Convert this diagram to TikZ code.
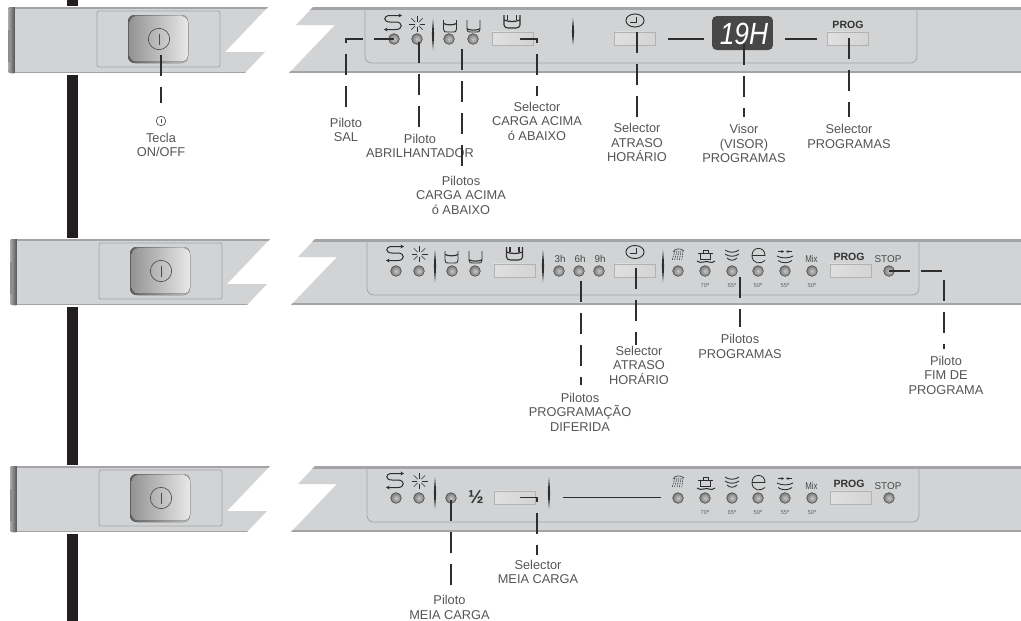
\documentclass[tikz,border=0pt]{standalone}
\usepackage{fontspec}
\setmainfont{Liberation Sans}
\usetikzlibrary{arrows.meta,shapes.geometric}
\definecolor{panelc}{HTML}{D1D3D4}
\definecolor{stripc}{HTML}{A2A4A7}
\definecolor{inkc}{HTML}{2E2E2E}
\definecolor{textc}{HTML}{555555}
\definecolor{barc}{HTML}{231F20}
\tikzset{
  x=0.75pt,y=-0.75pt,
  leader/.style={draw=inkc,line width=0.8pt,dash pattern=on 15.75pt off 8.25pt},
  solidline/.style={draw=inkc,line width=0.8pt},
  ico/.style={draw=inkc,line width=0.55pt},
  light/.style={circle,minimum size=8pt,inner sep=0pt,draw=black!70,line width=0.45pt,inner color=black!22,outer color=black!52},
  lab/.style={font=\fontsize{9.6pt}{10.9pt}\selectfont,text=textc,align=center,inner sep=0pt},
  selbox/.style={draw=black!30,line width=0.5pt,left color=black!12,middle color=black!3,right color=black!17,minimum width=30.5pt,minimum height=10pt,inner sep=0pt},
  progt/.style={font=\fontsize{7.9pt}{8pt}\selectfont\bfseries,text=black!80,inner sep=0pt},
  smallt/.style={font=\fontsize{7.4pt}{8pt}\selectfont,text=black!72,inner sep=0pt},
  tempt/.style={font=\fontsize{4.4pt}{5pt}\selectfont,text=black!60,inner sep=0pt},
}
\newcommand\lensbar[3]{\fill[inkc] (#1,#2) .. controls (#1+1.4,{(#2+#3)/2}) .. (#1,#3) .. controls (#1-1.4,{(#2+#3)/2}) .. (#1,#2);}
\newcommand\saltI[2]{\begin{scope}[shift={(#1,#2)}]
 \draw[ico,line width=0.75pt,{Stealth[length=2.6pt,width=2.8pt]}-{Stealth[length=2.6pt,width=2.8pt]}] (9,-7.5) -- (-3,-7.5) .. controls (-10,-7.5) and (-10,-1) .. (-3,-1) -- (3,-1) .. controls (10,-1) and (10,6.5) .. (3,6.5) -- (-9,6.5);
\end{scope}}
\newcommand\sparkI[2]{\begin{scope}[shift={(#1,#2)}]
 \foreach \a in {0,45,...,315}{\draw[ico,line width=0.4pt] ({2.5*cos(\a)},{2.5*sin(\a)}) -- ({8*cos(\a)},{8*sin(\a)});}
\end{scope}}
\newcommand\bucketI[3]{\begin{scope}[shift={(#1,#2)}]
 \draw[ico,line width=0.65pt] (-6.5,-6) -- (-6.5,3) .. controls (-6.5,6) and (-5,6) .. (-3,6) -- (3,6) .. controls (5,6) and (6.5,6) .. (6.5,3) -- (6.5,-6);
 \draw[ico,line width=0.85pt] (-6.5,#3) .. controls (-3,{#3+1.8}) and (3,{#3+1.8}) .. (6.5,#3);
\end{scope}}
\newcommand\dblbucket[2]{\begin{scope}[shift={(#1,#2)}]
 \draw[ico,line width=0.8pt] (-8,-6) -- (-8,4) .. controls (-8,6) and (-6,7) .. (-4,7) -- (4,7) .. controls (6,7) and (8,6) .. (8,4) -- (8,-6);
 \draw[ico,line width=0.8pt] (-4.5,-6) -- (-4.5,-1) (4.5,-6) -- (4.5,-1);
 \draw[ico,line width=0.9pt] (-8,-1) .. controls (-3,1) and (3,1) .. (8,-1);
\end{scope}}
\newcommand\clockI[2]{\begin{scope}[shift={(#1,#2)}]
 \draw[ico,line width=0.7pt] (0,0) ellipse[x radius=6.8pt,y radius=4.9pt];
 \draw[ico,line width=0.6pt] (1,-4) -- (1,1.5) -- (-5,1.5);
\end{scope}}
\newcommand\powerI[3]{\draw[draw=black!70,line width=0.5pt] (#1,#2) circle[radius=#3pt]; \draw[draw=black!70,line width=0.5pt] (#1,#2) ++(0,-5.5*#3/8) -- ++(0,11*#3/8);}
\newcommand\panelrow[2]{\begin{scope}[shift={(#1,#2)}]
 \fill[white] (58,5.5) rectangle (85,74.5);
 \fill[rounded corners=2pt,left color=black!32,right color=black!78] (8,7) rectangle (17,73);
 \fill[black!45] (8,30) rectangle (10,62);
 \begin{scope}
  \clip (15,7) -- (268,7) -- (225,52) -- (265,52) -- (245,73) -- (15,73) -- cycle;
  \fill[panelc] (15,7) rectangle (270,73);
  \fill[stripc] (15,7) rectangle (270,9);
  \fill[stripc] (15,71.5) rectangle (270,73);
 \end{scope}
 \begin{scope}
  \clip (313,7) -- (296,25) -- (335,25) -- (289,73) -- (1025,73) -- (1025,7) -- cycle;
  \fill[panelc] (280,7) rectangle (1025,73);
  \fill[stripc] (280,7) rectangle (1025,9.5);
  \fill[stripc] (280,70.8) rectangle (1025,73);
 \end{scope}
 \draw[stripc,line width=0.6pt,rounded corners=1.5pt] (97,11) rectangle (220,67);
 \draw[stripc,line width=0.6pt,rounded corners=5pt] (365,8) -- (365,63) -- (917,63) -- (917,8);
 \fill[rounded corners=5pt,left color=black!62,right color=black!25] (128,15) rectangle (188,63);
 \fill[rounded corners=5pt,left color=black!42,right color=black!9] (129.5,16) rectangle (188,61.5);
 \powerI{159}{39}{8}
\end{scope}}
\newcommand\progrow[2]{\begin{scope}[shift={(0,#2)}]
 \node[light] (#1a) at (678,271) {};
 \node[light] (#1b) at (705,271) {};
 \node[light] (#1c) at (732,271) {};
 \node[light] (#1d) at (758,271) {};
 \node[light] (#1e) at (785,271) {};
 \node[light] (#1f) at (812,271) {};
 \node[light] (#1stop) at (889,271) {};
 \node[tempt] (#1ta) at (705,285) {70º};
 \node[tempt] (#1tb) at (732,285) {65º};
 \node[tempt] (#1tc) at (758,285) {50º};
 \node[tempt] (#1td) at (785,285) {55º};
 \node[tempt] (#1te) at (812,285) {50º};
 \node[font=\fontsize{7.4pt}{8pt}\selectfont,text=black!72,inner sep=0pt,xscale=0.8] (#1mix) at (811.5,259) {Mix};
 \node[progt] (#1pr) at (849,257) {PROG};
 \node[selbox] (#1sel) at (850.5,270.5) {};
 \node[smallt] (#1st) at (888,259) {STOP};
 % shower
 \draw[ico,line width=0.45pt] (673,252) .. controls (675,248) and (681,248) .. (684,251);
 \foreach \q in {-4,-2,0,2,4}{\draw[ico,line width=0.4pt,dash pattern=on 1.2pt off 0.7pt] (679+\q,251) -- (677+1.2*\q,260);}
 % pot
 \draw[ico] (700.5,254) -- (700.5,259.5) -- (710.5,259.5) -- (710.5,254);
 \draw[ico] (698,253.5) -- (713,253.5) (703,253.5) -- (703,250) -- (708,250) -- (708,253.5);
 \draw[ico,line width=0.75pt] (697,261) .. controls (701,264.5) and (706,260) .. (709,262) .. controls (711,263) and (713,262.5) .. (715,261);
 % bowls
 \draw[ico,line width=0.65pt] (725,250) .. controls (729,253) and (735,253) .. (739,250);
 \draw[ico,line width=0.65pt] (725,254) .. controls (729,257) and (735,257) .. (739,254);
 \draw[ico,line width=0.65pt] (727,258) .. controls (730,261) and (734,261) .. (737,258);
 % e
 \draw[ico,line width=0.6pt] (752,255.5) -- (765,255.5) .. controls (765,246) and (752,246) .. (752,255.5) .. controls (752,264) and (761,264.5) .. (765,260.5);
 % 55
 \draw[ico,line width=0.5pt,-{Stealth[length=2pt,width=2pt]}] (778,251.5) -- (784,251.5);
 \draw[ico,line width=0.5pt,-{Stealth[length=2pt,width=2pt]}] (792,251.5) -- (786,251.5);
 \draw[ico,line width=0.65pt] (777,256) .. controls (781,258.5) and (789,258.5) .. (793,256);
 \draw[ico,line width=0.65pt] (778,260.5) .. controls (782,263.5) and (788,263.5) .. (792,260.5);
\end{scope}}
\begin{document}
\begin{tikzpicture}
\useasboundingbox (0,0) rectangle (1021,621);
\fill[white] (0,0) rectangle (1021,621);
\fill[barc] (67,0) rectangle (78,621);
\panelrow{0}{0}
\panelrow{2}{232}
\panelrow{2}{459}

%%% ROW 1
\saltI{393}{23}
\sparkI{417}{24}
\bucketI{450}{26}{-2.5}
\bucketI{473.5}{26}{2.8}
\dblbucket{512}{21}
\clockI{635}{20.5}
\lensbar{433}{19}{50}
\lensbar{573}{18}{45}
\node[light] (asal) at (394,39) {};
\node[light] (abri) at (417,39) {};
\node[light] (acga) at (449,39) {};
\node[light] (acgb) at (473,39) {};
\node[selbox] (asela) at (512.5,38.5) {};
\node[selbox] (aselb) at (635,38.5) {};
\node[selbox] (aselc) at (848,38.5) {};
\node[progt] (aprog) at (848,25) {PROG};
\node[fill=black!72,rounded corners=3.5pt,minimum width=45.7pt,minimum height=25.5pt,inner sep=0pt] (avis) at (742.5,33) {};
\node[font=\fontsize{23pt}{23pt}\selectfont\itshape,text=white,inner sep=0pt,xscale=0.86] (avist) at (744,34) {19H};
\coordinate (cl1) at (668,39); \coordinate (cl2) at (704,39);
\coordinate (cl3) at (785,39); \coordinate (cl4) at (817,39);
\draw[solidline] (cl1) -- (cl2);
\draw[solidline] (cl3) -- (cl4);

%%% ROW 2
\saltI{395}{254}
\sparkI{419.5}{254}
\bucketI{451.5}{257}{-2.5}
\bucketI{475.5}{257}{2.8}
\dblbucket{514.5}{253}
\clockI{635}{252}
\lensbar{435}{250}{282}
\lensbar{543}{250}{282}
\lensbar{663}{250}{282}
\node[light] (bsal) at (396,271) {};
\node[light] (bbri) at (419,271) {};
\node[light] (bcga) at (452,271) {};
\node[light] (bcgb) at (475,271) {};
\node[selbox] (bsela) at (514.5,270.5) {};
\node[selbox] (bselb) at (635,270.5) {};
\node[smallt] (b3h) at (560,259) {3h};
\node[smallt] (b6h) at (580,259) {6h};
\node[smallt] (b9h) at (600,259) {9h};
\node[light] (bh3) at (559,271) {};
\node[light] (bh6) at (579,271) {};
\node[light] (bh9) at (599,271) {};
\progrow{bp}{0}

%%% ROW 3
\saltI{395}{481}
\sparkI{419.5}{481}
\lensbar{435}{477}{509}
\lensbar{549}{477}{509}
\node[light] (csal) at (396,498) {};
\node[light] (cbri) at (419,498) {};
\node[light] (cmc) at (451,498) {};
\node[font=\fontsize{14pt}{14pt}\selectfont\bfseries,text=black!80,inner sep=0pt] (chalf) at (476,497) {½};
\node[selbox] (csel) at (514.5,497.5) {};
\progrow{cp}{227}
\coordinate (cl5) at (563,497.5); \coordinate (cl6) at (661,497.5);
\draw[solidline] (cl5) -- (cl6);

%%% LABELS
\powerI{161}{121}{3.6}
\node[lab] (l1) at (161,145) {Tecla\\ON/OFF};
\node[lab] (l2) at (346,130) {Piloto\\SAL};
\node[lab] (l3) at (420,146) {Piloto\\ABRILHANTADOR};
\node[lab] (l4) at (461,195) {Pilotos\\CARGA ACIMA\\ó ABAIXO};
\node[lab] (l5) at (537,121) {Selector\\CARGA ACIMA\\ó ABAIXO};
\node[lab] (l6) at (637,142.5) {Selector\\ATRASO\\HORÁRIO};
\node[lab] (l7) at (744,143.5) {Visor\\(VISOR)\\PROGRAMAS};
\node[lab] (l8) at (849,136.5) {Selector\\PROGRAMAS};
\node[lab] (l9) at (580,412) {Pilotos\\PROGRAMAÇÃO\\DIFERIDA};
\node[lab] (l10) at (639,365) {Selector\\ATRASO\\HORÁRIO};
\node[lab] (l11) at (740,346.5) {Pilotos\\PROGRAMAS};
\node[lab] (l12) at (946,375) {Piloto\\FIM DE\\PROGRAMA};
\node[lab] (l13) at (538,572) {Selector\\MEIA CARGA};
\node[lab] (l14) at (449.5,607.5) {Piloto\\MEIA CARGA};

%%% LEADERS
\coordinate (e1a) at (161,55);   \coordinate (e1b) at (161,103);
\draw[leader] (e1a) -- (e1b);
\coordinate (e2) at (346,107);
\draw[leader] (e2) |- (asal.center);
\coordinate (e3) at (419,127); \coordinate (e3b) at (419,39);
\draw[leader] (e3) -- (e3b);
\coordinate (e4a) at (462,166); \coordinate (e4b) at (462,49);
\draw[leader] (e4a) -- (e4b);
\coordinate (e5a) at (520,39); \coordinate (e5b) at (537,96);
\draw[leader] (e5a) -| (e5b);
\coordinate (e6a) at (637,117); \coordinate (e6b) at (637,30);
\draw[leader] (e6a) -- (e6b);
\coordinate (e7a) at (744,44); \coordinate (e7b) at (744,117);
\draw[leader] (e7a) -- (e7b);
\coordinate (e8a) at (849,38); \coordinate (e8b) at (849,117);
\draw[leader] (e8a) -- (e8b);
\coordinate (e9a) at (581,281); \coordinate (e9b) at (581,385);
\draw[leader] (e9a) -- (e9b);
\coordinate (e10a) at (636,268); \coordinate (e10b) at (636,345);
\draw[leader] (e10a) -- (e10b);
\coordinate (e11a) at (740,277); \coordinate (e11b) at (740,327);
\draw[leader] (e11a) -- (e11b);
\coordinate (e12) at (944,349);
\draw[leader] (bpstop.center) -| (e12);
\coordinate (e13a) at (520,497.5); \coordinate (e13b) at (537,555);
\draw[leader] (e13a) -| (e13b);
\coordinate (e14) at (451,585);
\draw[leader] (e14) -- (cmc.center);
\end{tikzpicture}
\end{document}
